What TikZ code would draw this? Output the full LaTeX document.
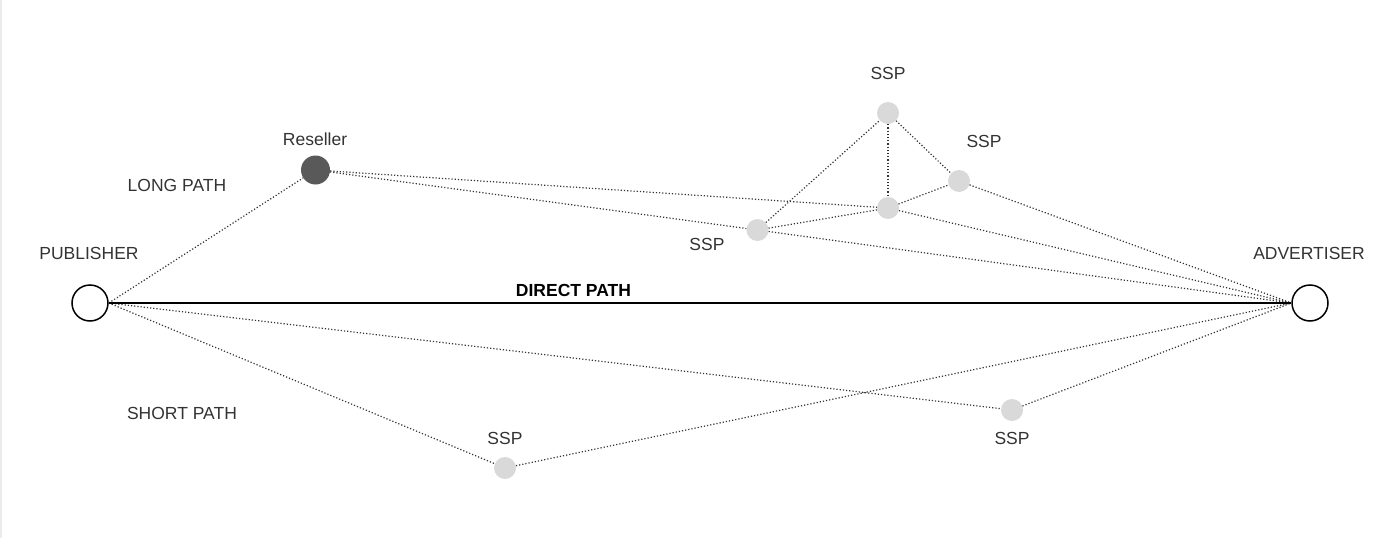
\documentclass[tikz,border=0pt]{standalone}
\usepackage{fontspec}
\setmainfont{Liberation Sans}
\usepackage{xcolor}
\usetikzlibrary{positioning}
\definecolor{ink}{HTML}{333333}
\definecolor{sspgray}{HTML}{D9D9D9}
\definecolor{resgray}{HTML}{595959}

\begin{document}
\begin{tikzpicture}[x=1pt,y=-1pt,
  font=\fontsize{17.5}{20}\selectfont,
  endpoint/.style={draw,circle,line width=1.5pt,fill=white,minimum size=36pt,inner sep=0pt},
  ssp/.style={circle,fill=sspgray,minimum size=22pt,inner sep=0pt},
  reseller/.style={circle,fill=resgray,minimum size=29pt,inner sep=0pt},
  lbl/.style={text=ink,inner sep=0pt},
  link/.style={line width=1.2pt,dash pattern=on 1.2pt off 2pt,draw=black!80}]
  \useasboundingbox (0,0) rectangle (1400,538);
  \draw[black!8,line width=2pt] (1,0) -- (1,538);

  % end points
  \node[endpoint] (pub) at (90,303) {};
  \node[endpoint] (adv) at (1310,303) {};
  \node[lbl] (publbl) at (89,253) {PUBLISHER};
  \node[lbl] (advlbl) at (1309,253) {ADVERTISER};

  % long path
  \node[reseller] (res) at (315.5,170) {};
  \node[lbl] (reslbl) at (315,139) {Reseller};
  \node[ssp] (ssptop) at (888,113) {};
  \node[ssp] (sspright) at (959,181) {};
  \node[ssp] (sspmid) at (888,208) {};
  \node[ssp] (sspleft) at (757.5,230) {};
  \node[lbl] (ssptoplbl) at (888,73) {SSP};
  \node[lbl] (ssprightlbl) at (984,141) {SSP};
  \node[lbl] (sspleftlbl) at (707,244) {SSP};

  % short path
  \node[ssp] (sspbot) at (505,468) {};
  \node[ssp] (sspbr) at (1012,410) {};
  \node[lbl] (sspbotlbl) at (505,438) {SSP};
  \node[lbl] (sspbrlbl) at (1012,438) {SSP};

  \node[lbl] (longlbl) at (177,185) {LONG PATH};
  \node[lbl] (shortlbl) at (182,413) {SHORT PATH};

  \draw[link] (pub.east) -- (res);
  \draw[link] (res) -- (sspmid);
  \draw[link] (res) -- (sspleft);
  \draw[link] (sspleft) -- (ssptop);
  \draw[link] (ssptop) -- (sspmid);
  \draw[link] (ssptop) -- (sspright);
  \draw[link] (sspleft) -- (sspmid);
  \draw[link] (sspmid) -- (sspright);
  \draw[link] (pub.east) -- (sspbr);
  \draw[link] (pub.east) -- (sspbot);
  \foreach \s in {sspright,sspmid,sspleft,sspbr,sspbot}
    \draw[link] (\s) -- (adv.west);

  \draw[line width=2.8pt] (pub) -- node[pos=0.393,above=2pt,font=\fontsize{17.5}{20}\selectfont\bfseries] (directlbl) {DIRECT PATH} (adv);
\end{tikzpicture}
\end{document}
